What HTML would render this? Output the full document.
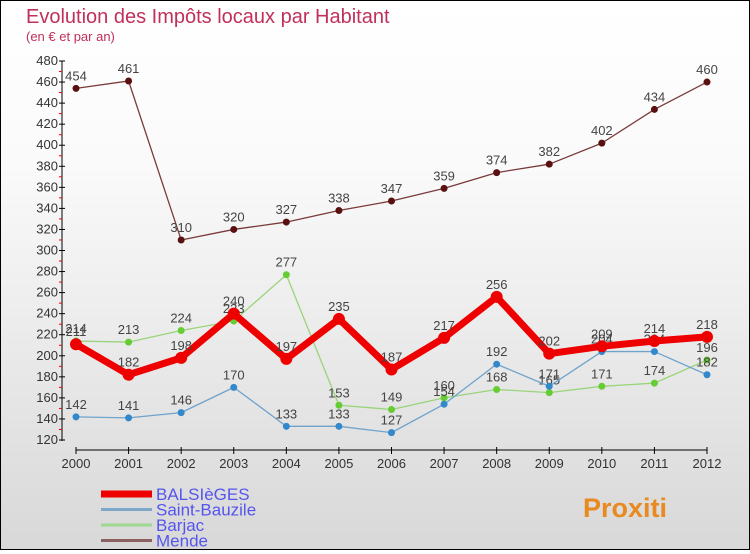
<!DOCTYPE html>
<html><head><meta charset="utf-8"><style>
body{margin:0}
#c{width:748px;height:548px;border:1px solid #000;background:linear-gradient(#fff,#fafafa 30%,#d8d8d8);position:relative;font-family:"Liberation Sans","DejaVu Sans",sans-serif}
</style></head><body>
<div id="c">
<svg id="s" width="748" height="548">
<text x="25" y="22" font-size="20" fill="#c0305a">Evolution des Impôts locaux par Habitant</text>
<text x="25" y="40" font-size="13" fill="#c0305a">(en € et par an)</text>
</svg></div>
<script>
const years=[2000,2001,2002,2003,2004,2005,2006,2007,2008,2009,2010,2011,2012];
const yTicks=[120,140,160,180,200,220,240,260,280,300,320,340,360,380,400,420,440,460,480];
const balsieges=[211,182,198,240,197,235,187,217,256,202,209,214,218];
const saintBauzile=[142,141,146,170,133,133,127,154,192,171,204,204,182];
const barjac=[214,213,224,233,277,153,149,160,168,165,171,174,196];
const mende=[454,461,310,320,327,338,347,359,374,382,402,434,460];
const NS="http://www.w3.org/2000/svg";
const s=document.getElementById('s');
function X(i){return 75+i*(706-75)/(years.length-1);}
function Y(v){return 60+(480-v)*379/360;}
function el(t,a,p){const e=document.createElementNS(NS,t);for(const k in a)e.setAttribute(k,a[k]);(p||s).appendChild(e);return e;}
const ax=el('g',{});


el('line',{x1:61,y1:60,x2:61,y2:440,stroke:'#000'},ax);
el('line',{x1:75,y1:449,x2:706,y2:449,stroke:'#000'},ax);
yTicks.forEach((v,k)=>{
  const t=el('text',{x:57,y:Y(v)+4,'font-size':13,fill:'#333','text-anchor':'end'},ax);
  t.textContent=v;
  
  
  el('line',{x1:58,y1:Y(v),x2:64,y2:Y(v),stroke:'#000'},ax);
  if(k<yTicks.length-1)el('line',{x1:58,y1:Y(v+10),x2:61,y2:Y(v+10),stroke:'#e00'},ax);
});
years.forEach((yr,i)=>{
  el('line',{x1:X(i),y1:446,x2:X(i),y2:453,stroke:'#000'},ax);
  const t=el('text',{x:X(i),y:467,'font-size':13,fill:'#333','text-anchor':'middle'},ax);
  t.textContent=yr;
  
  
});
function series(name,data,color,w,r,dot){
  const g=el('g',{});
  
  
  el('polyline',{points:data.map((v,i)=>X(i)+','+Y(v)).join(' '),fill:'none',stroke:color,'stroke-width':w,'stroke-linejoin':'round'},g);
  data.forEach((v,i)=>{
    const c=el('circle',{cx:X(i),cy:Y(v),r:r,fill:dot},g);
    
    
    const t=el('text',{x:X(i),y:Y(v)-8,'font-size':13,fill:'#444','text-anchor':'middle'},g);
    t.textContent=v;
    
    
  });
}
series('mende',mende,'#7a3a3a',1.3,3.5,'#5a1010');
series('barjac',barjac,'#9ad47a',1.3,3.5,'#66cc33');
series('saint-bauzile',saintBauzile,'#6fa3cc',1.3,3.5,'#3388cc');
series('balsieges',balsieges,'#ee0000',7,6,'#ee0000');
const leg=[['BALSIèGES','#ee0000',7],['Saint-Bauzile','#7fa8c8',3],['Barjac','#a0d890',3],['Mende','#8a6060',3]];
leg.forEach((l,k)=>{
  const g=el('g',{});
  
  
  const y=493+k*15.5;
  el('line',{x1:100,y1:y,x2:151,y2:y,stroke:l[1],'stroke-width':l[2]},g);
  const t=el('text',{x:155,y:y+6,'font-size':17,fill:'#5555ee'},g);
  t.textContent=l[0];
});
const lg=el('text',{x:582,y:516,'font-size':27,'font-weight':'bold',fill:'#e88a20'});
lg.textContent='Proxiti';


</script>
</body></html>
